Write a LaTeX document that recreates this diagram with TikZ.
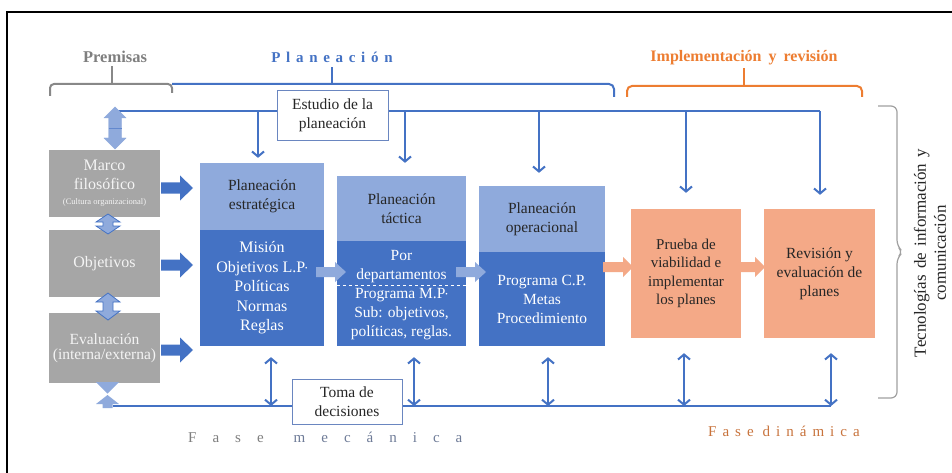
\documentclass[tikz,border=0pt]{standalone}
\usepackage{fontspec}
\setmainfont{Liberation Serif}
\usetikzlibrary{arrows.meta}
\definecolor{cblue}{HTML}{4472C4}
\definecolor{lblue}{HTML}{8FAADC}
\definecolor{gbox}{HTML}{A6A6A6}
\definecolor{salm}{HTML}{F4A987}
\definecolor{corange}{HTML}{ED7D31}
\definecolor{dtext}{HTML}{262626}
\definecolor{gtext}{HTML}{F4F4F4}
\definecolor{grayone}{HTML}{7F7F7F}
\definecolor{slate}{HTML}{6F7C98}
\definecolor{brownone}{HTML}{C8733C}
\definecolor{braceg}{HTML}{A0A0A0}
\definecolor{boxline}{HTML}{6A86C0}
\newcommand\lsp{\kern5.7pt\relax}
\newcommand\msp{\kern16pt\relax}
\newcommand\dsp{\kern6pt\relax}
\newcommand\blockR[7]{\fill[#1] (#2,#3) ++(0,-#5) -- ++({#4-#7},0) -- ++(0,{#5-#6}) -- ++(#7,#6) -- ++(-#7,#6) -- ++(0,{#5-#6}) -- ++({#7-#4},0) -- cycle;}
\newcommand\blockV[7]{\filldraw[#1] (#2,#3) -- ++(#6,#7) -- ++({#5-#6},0) -- ++(0,{#4-#3-2*#7}) -- ++({#6-#5},0) -- ++(-#6,#7) -- ++(-#6,-#7) -- ++({#6-#5},0) -- ++(0,{#3-#4+2*#7}) -- ++({#5-#6},0) -- cycle;}
\tikzset{
 txt/.style={font=\fontsize{15.5}{19}\selectfont, align=center, inner sep=0pt},
 gb/.style={txt, fill=gbox, text=gtext, minimum width=111pt, font=\fontsize{16}{19}\selectfont},
 lt/.style={txt, fill=lblue, text=dtext},
 dk/.style={txt, fill=cblue, text=white},
 sl/.style={txt, fill=salm, text=dtext},
 wb/.style={txt, fill=white, draw=boxline, line width=0.9pt, text=dtext},
 bl/.style={draw=cblue, line width=2pt},
 arr/.style={bl, -{Straight Barb[length=5pt,width=12pt]}},
 darr/.style={bl, {Straight Barb[length=5pt,width=12pt]}-{Straight Barb[length=5pt,width=12pt]}},
}
\begin{document}
\begin{tikzpicture}[x=1pt,y=-1pt]
\useasboundingbox (0,0) rectangle (952,473);
\fill[white] (0,0) rectangle (952,473);
\draw[black, line width=2.5pt] (7,480) -- (7,12) -- (960,12);

% headers
\node[font=\bfseries\fontsize{16.5}{19}\selectfont, text=grayone] (prem) at (115,57) {Premisas};
\node[font=\bfseries\fontsize{15}{19}\selectfont, text=cblue] (plan) at (332,57) {P\lsp l\lsp a\lsp n\lsp e\lsp a\lsp c\lsp i\lsp ó\lsp n};
\node[font=\bfseries\fontsize{16}{19}\selectfont, text=corange] (impl) at (744,58) {Implementación\kern3pt\ y\kern3pt\ revisión};

% braces
\draw[braceg!85!black, line width=2pt, rounded corners=4pt] (50,96) -- (50,84) -- (172,84) -- (172,93);
\draw[braceg!85!black, line width=2pt] (112,84) -- (112,66);
\draw[cblue, line width=2pt, rounded corners=5pt] (172,84) -- (614,84) -- (614,97);
\draw[cblue, line width=2pt] (332,84) -- (332,67);
\draw[corange, line width=2pt, rounded corners=5pt] (627,97) -- (627,86) -- (862,86) -- (862,97);
\draw[corange, line width=2pt] (744,86) -- (744,68);
\draw[braceg, line width=1.2pt, rounded corners=6pt] (878,106) -- (897,106) -- (897,246) -- (903,252) -- (897,258) -- (897,398) -- (878,398);

% top and bottom lines
\coordinate (tl) at (117,111);
\coordinate (tr) at (820,111);
\coordinate (bll) at (113,406);
\coordinate (blr) at (831,406);
\draw[bl] (tl) -- (tr);
\draw[bl] (bll) -- (blr);

% gray boxes
\node[gb, minimum height=67pt] (marco) at (104.5,183.5) {Marco\\filosófico\\[-4pt]{\fontsize{8.5}{10}\selectfont(Cultura organizacional)}};
\node[gb, minimum height=67pt] (objet) at (104.5,263.5) {Objetivos};
\node[gb, minimum height=70pt, font=\fontsize{15.5}{15}\selectfont] (evalu) at (104.5,348) {Evaluación\\(interna/externa)};

% planning boxes
\node[lt, minimum width=124pt, minimum height=67pt] (estt) at (262,196.5) {Planeación\\estratégica};
\node[dk, minimum width=124pt, minimum height=116pt, font=\fontsize{16}{19.5}\selectfont] (estb) at (262,288) {Misión\\Objetivos L.P\raisebox{1.5pt}{\scriptsize\textbullet}\\Políticas\\Normas\\Reglas};
\node[lt, minimum width=129pt, minimum height=65pt] (tact) at (401.5,208.5) {Planeación\\táctica};
\node[dk, minimum width=129pt, minimum height=105pt] (tacb) at (401.5,293.5) {};
\node[txt, text=white] (tacb1) at (401.5,266.5) {Por\\departamentos};
\node[txt, text=white] (tacb2) at (401.5,314) {Programa M.P\raisebox{1.5pt}{\scriptsize\textbullet}\\Sub: objetivos,\\políticas, reglas.};
\draw[white, line width=0.9pt, dashed] (tacb.west |- 0,285) -- (tacb.east |- 0,285);
\node[lt, minimum width=126pt, minimum height=66pt] (opt) at (542,219) {Planeación\\operacional};
\node[dk, minimum width=126pt, minimum height=94pt] (opb) at (542,299) {Programa C.P.\\Metas\\Procedimiento};
\node[sl, minimum width=110pt, minimum height=129pt, font=\fontsize{15}{18.5}\selectfont] (prueba) at (686,273.5) {Prueba de\\viabilidad e\\implementar\\los planes};
\node[sl, minimum width=111pt, minimum height=129pt] (revis) at (819.5,273.5) {Revisión y\\evaluación de\\planes};

% white boxes on lines
\node[wb, minimum width=111pt, minimum height=50pt] (estudio) at (332.5,115) {Estudio de la\\planeación};
\node[wb, minimum width=110pt, minimum height=45pt] (toma) at (347,401.5) {Toma de\\decisiones};

% block arrows
\blockR{cblue}{161}{188}{32}{5.5}{12.5}{13}
\blockR{cblue}{161}{265}{32}{5.5}{12.5}{13}
\blockR{cblue}{161}{350}{32}{5.5}{12.5}{13}
\blockR{lblue}{316}{272}{30}{5}{10}{11}
\blockR{lblue}{456}{272}{30}{5}{10}{11}
\blockR{salm}{603}{267}{30}{5}{10}{10}
\blockR{salm}{741}{267}{24}{5}{10}{10}
\blockV{fill=lblue, draw=lblue}{115}{107}{149}{6.5}{11}{11}
\draw[cblue!60!lblue, line width=0.6pt] (108.5,128) -- (121.5,128);
\blockV{fill=lblue, draw=cblue, line width=0.8pt}{108}{214}{234}{5}{12}{8}
\blockV{fill=lblue, draw=cblue, line width=0.8pt}{108}{293}{320}{5}{12}{9}
\fill[lblue] (96,382) -- (119,382) -- (107.5,393.5) -- cycle;
\fill[lblue] (107.5,395) -- (119,404) -- (112.5,404) -- (112.5,408) -- (102.5,408) -- (102.5,404) -- (96,404) -- cycle;

% down arrows from top line
\coordinate (d1) at (258,111);
\coordinate (d2) at (405,111);
\coordinate (d3) at (539,111);
\coordinate (d4) at (686,111);
\draw[arr, shorten >=5pt] (d1) -- (d1 |- estt.north);
\draw[arr, shorten >=13pt] (d2) -- (d2 |- tact.north);
\draw[arr, shorten >=13pt] (d3) -- (d3 |- opt.north);
\draw[arr, shorten >=16pt] (d4) -- (d4 |- prueba.north);
\draw[arr, shorten >=14pt] (tr) -- (tr |- revis.north);

% double arrows from bottom line
\coordinate (u1) at (271,406);
\coordinate (u2) at (414,406);
\coordinate (u3) at (548,406);
\coordinate (u4) at (684,406);
\draw[darr, shorten >=11pt] (u1) -- (u1 |- estb.south);
\draw[darr, shorten >=11pt] (u2) -- (u2 |- tacb.south);
\draw[darr, shorten >=11pt] (u3) -- (u3 |- opb.south);
\draw[darr, shorten >=15pt] (u4) -- (u4 |- prueba.south);
\draw[darr, shorten >=15pt] (blr) -- (blr |- revis.south);

% phases
\node[font=\fontsize{15}{18}\selectfont, inner sep=0pt, anchor=west] (fmec) at (188,437) {\textcolor{grayone}{F\msp a\msp s\msp e}\kern30pt\textcolor{slate}{m\msp e\msp c\msp á\msp n\msp i\msp c\msp a}};
\node[font=\fontsize{15}{18}\selectfont, inner sep=0pt, anchor=west, text=brownone] (fdin) at (708,431) {F\dsp a\dsp s\dsp e\kern9pt d\dsp i\dsp n\dsp á\dsp m\dsp i\dsp c\dsp a};

% vertical text
\node[rotate=90, font=\fontsize{17}{20}\selectfont, align=center, text=dtext, inner sep=0pt] (tic) at (930,253) {Tecnologías\kern2pt\ de\kern2pt\ información\kern2pt\ y\\comunicación};
\end{tikzpicture}
\end{document}
